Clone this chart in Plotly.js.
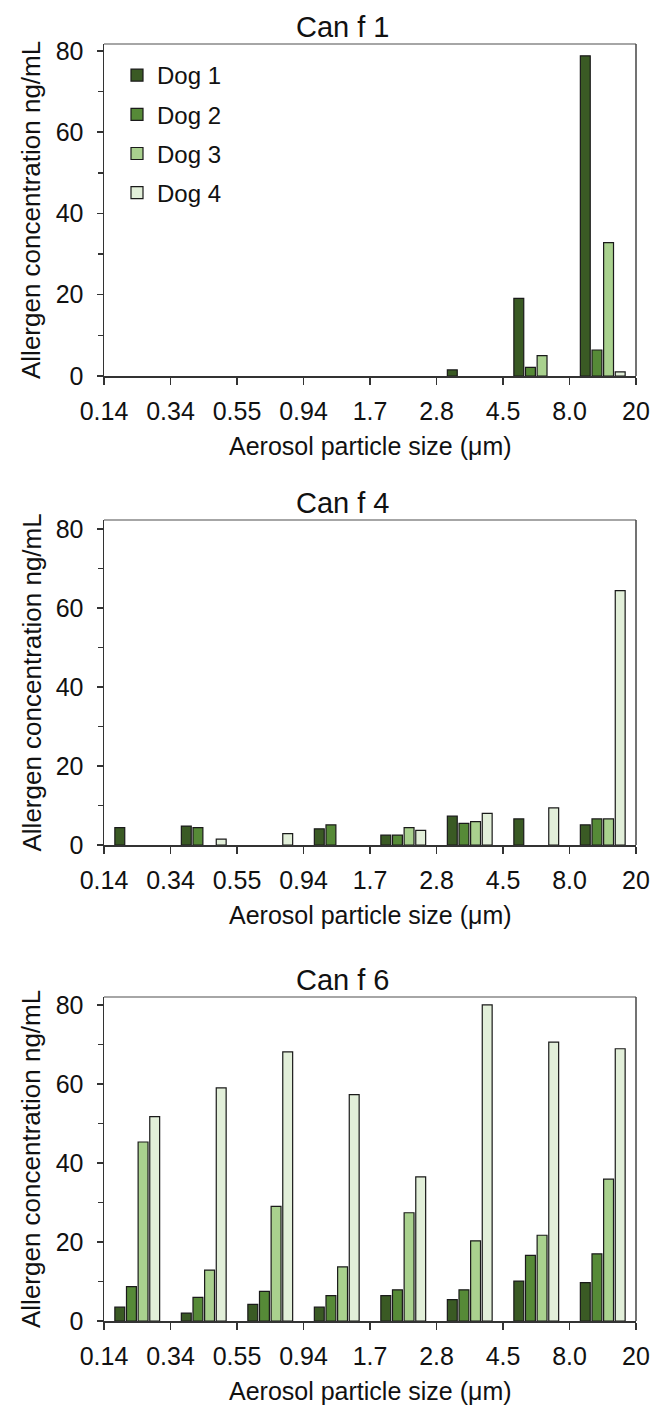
<!DOCTYPE html>
<html>
<head>
<meta charset="utf-8">
<script src="https://cdn.plot.ly/plotly-3.0.1.min.js"></script>
<style>html,body{margin:0;padding:0;background:#fff;}#chart{width:654px;height:1405px;}</style>
</head>
<body>
<div id="chart"></div>
<script>
// Particle size bin boundaries (tick labels)
const sizeLabels = ["0.14", "0.34", "0.55", "0.94", "1.7", "2.8", "4.5", "8.0", "20"];
const dogs = ["Dog 1", "Dog 2", "Dog 3", "Dog 4"];
const dogColors = ["#3a5a24", "#568a37", "#a9d18e", "#e2efd9"];
const panelTitles = ["Can f 1", "Can f 4", "Can f 6"];

// Can f 1 (ng/mL), one value per size bin (null = no bar)
const canf1_dog1 = [null, null, null, null, null, 1.5, 19.1, 78.8];
const canf1_dog2 = [null, null, null, null, null, null, 2.1, 6.4];
const canf1_dog3 = [null, null, null, null, null, null, 5.0, 32.8];
const canf1_dog4 = [null, null, null, null, null, null, null, 1.0];

// Can f 4
const canf4_dog1 = [4.4, 4.8, null, 4.1, 2.5, 7.3, 6.6, 5.1];
const canf4_dog2 = [null, 4.4, null, 5.1, 2.5, 5.5, null, 6.6];
const canf4_dog3 = [null, null, null, null, 4.4, 5.9, null, 6.6];
const canf4_dog4 = [null, 1.5, 2.9, null, 3.7, 8.0, 9.4, 64.4];

// Can f 6
const canf6_dog1 = [3.5, 2.0, 4.2, 3.5, 6.4, 5.4, 10.1, 9.7];
const canf6_dog2 = [8.7, 6.0, 7.5, 6.4, 7.9, 7.9, 16.6, 17.0];
const canf6_dog3 = [45.3, 12.9, 29.0, 13.7, 27.4, 20.3, 21.7, 35.9];
const canf6_dog4 = [51.7, 59.0, 68.1, 57.3, 36.5, 80.0, 70.6, 68.9];

const panels = [
  [canf1_dog1, canf1_dog2, canf1_dog3, canf1_dog4],
  [canf4_dog1, canf4_dog2, canf4_dog3, canf4_dog4],
  [canf6_dog1, canf6_dog2, canf6_dog3, canf6_dog4]
];

const W = 654, H = 1405, ML = 104, MR = 18;
const PW = W - ML - MR;
const py = p => 1 - p / H;
const px = p => (p - ML) / PW;

// Panel geometry in pixels: [box top, zero line]
const geom = [[44, 376], [520, 845], [997, 1321]];
const yTop = [81.7, 82.3, 82.0];

const binCenters = sizeLabels.slice(0, -1).map((_, i) => i + 0.5);
const font = "Liberation Sans, Arial, sans-serif";

const traces = [];
panels.forEach((series, p) => {
  series.forEach((vals, d) => {
    traces.push({
      type: "bar",
      x: binCenters,
      y: vals,
      name: dogs[d],
      legendgroup: dogs[d],
      showlegend: p === 0,
      xaxis: p === 0 ? "x" : "x" + (p + 1),
      yaxis: p === 0 ? "y" : "y" + (p + 1),
      marker: { color: dogColors[d], line: { color: "#1a1a1a", width: 1.2 } },
      hoverinfo: "x+y+name"
    });
  });
});

const layout = {
  width: W, height: H,
  margin: { l: ML, r: MR, t: 0, b: 0 },
  paper_bgcolor: "#fff", plot_bgcolor: "#fff",
  font: { family: font, color: "#111" },
  barmode: "group", bargap: 0.3, bargroupgap: 0.15,
  showlegend: true,
  legend: {
    x: px(117), y: py(53), xanchor: "left", yanchor: "top",
    font: { size: 24, family: font, color: "#111" },
    bgcolor: "rgba(0,0,0,0)", traceorder: "grouped", tracegroupgap: 5
  },
  annotations: [], shapes: []
};

geom.forEach((g, p) => {
  const sx = p === 0 ? "" : String(p + 1);
  layout["xaxis" + sx] = {
    domain: [0, 1], anchor: "y" + sx, range: [0, 8],
    tickmode: "array", tickvals: sizeLabels.map((_, i) => i), ticktext: sizeLabels,
    ticks: "outside", ticklen: 7, tickwidth: 1.5, tickcolor: "#333",
    showline: true, linecolor: "#333", linewidth: 1.5,
    showgrid: false, zeroline: false, fixedrange: true,
    tickfont: { size: 25, family: font, color: "#111" }, ticklabelstandoff: 5
  };
  layout["yaxis" + sx] = {
    domain: [py(g[1]), py(g[0])], anchor: "x" + sx, range: [0, yTop[p]],
    tickmode: "linear", tick0: 0, dtick: 20,
    ticks: "outside", ticklen: 6, tickwidth: 1.5, tickcolor: "#333",
    minor: { dtick: 10, ticks: "outside", ticklen: 5, tickwidth: 1.5, tickcolor: "#333" },
    showline: true, linecolor: "#333", linewidth: 1.5,
    showgrid: false, zeroline: false, fixedrange: true,
    tickfont: { size: 25, family: font, color: "#111" }, ticklabelstandoff: 8
  };
  const xd = "x" + sx + " domain", yd = "y" + sx + " domain";
  layout.shapes.push({ type: "line", xref: xd, yref: yd, x0: 0, x1: 1, y0: 1, y1: 1, line: { color: "#888", width: 1.5 } });
  layout.shapes.push({ type: "line", xref: xd, yref: yd, x0: 1, x1: 1, y0: 0, y1: 1, line: { color: "#444", width: 1.5 } });
  // panel title
  layout.annotations.push({
    text: panelTitles[p], xref: "paper", yref: "paper", x: px(343), y: py(g[0] - 17),
    xanchor: "center", yanchor: "middle", showarrow: false,
    font: { size: 29, family: font, color: "#111" }
  });
  // y title
  layout.annotations.push({
    text: "Allergen concentration ng/mL", xref: "paper", yref: "paper",
    x: px(31), y: py((g[0] + g[1]) / 2), textangle: -90,
    xanchor: "center", yanchor: "middle", showarrow: false,
    font: { size: 26, family: font, color: "#111" }
  });
  // x title
  layout.annotations.push({
    text: "Aerosol particle size (μm)", xref: "paper", yref: "paper",
    x: 0.5, y: py(g[1] + 70),
    xanchor: "center", yanchor: "middle", showarrow: false,
    font: { size: 25, family: font, color: "#111" }
  });
});

Plotly.newPlot("chart", traces, layout, { displayModeBar: false, staticPlot: true });
</script>
</body>
</html>
